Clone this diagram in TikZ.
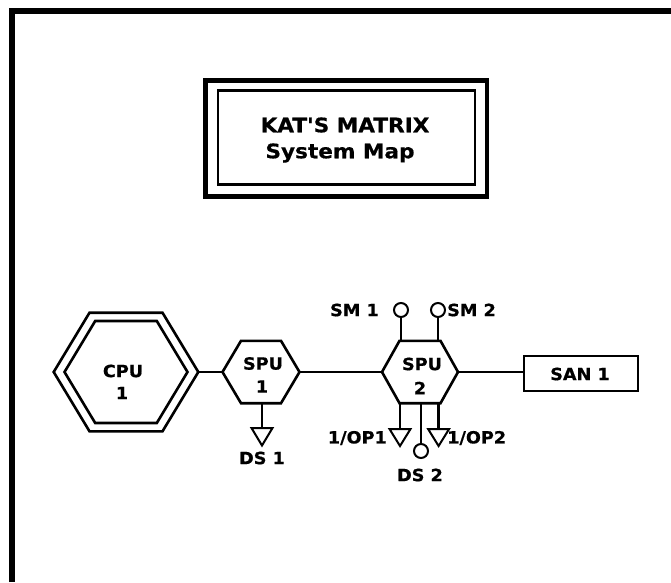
\documentclass[tikz,border=0pt]{standalone}
\usepackage{fontspec}
\setmainfont{DejaVu Sans}
\newfontfamily\lblfont{DejaVu Sans}[FakeStretch=1.05,FakeBold=0.6]
\newfontfamily\ttlfont{DejaVu Sans}[FakeStretch=1.08,FakeBold=0.6]
\begin{document}
\begin{tikzpicture}[x=1pt,y=-1pt,
  wire/.style={line width=2.4pt},
  shapeline/.style={line width=2.6pt,line join=miter},
  thinline/.style={line width=2pt},
  lbl/.style={font=\lblfont\bfseries\fontsize{16.8}{16.8}\selectfont,inner sep=0pt},
  ttl/.style={font=\ttlfont\bfseries\fontsize{20}{20}\selectfont,inner sep=0pt}]
\useasboundingbox (0,0) rectangle (671,582);
% frame (top and left only)
\draw[line width=5.5pt] (12,582) -- (12,11) -- (671,11);
% title box
\draw[line width=4.5pt] (205.5,80.5) rectangle (487,196.5);
\draw[line width=2.6pt] (218,90.5) rectangle (475,184.5);
\node[ttl] (t1) at (345,125) {KAT'S MATRIX};
\node[ttl] (t2) at (340,153) {System Map};
% hexagon macro
\newcommand{\hexpath}[5]{%
  (#1-#3,#2) -- (#1-#5,#2-#4) -- (#1+#5,#2-#4) -- (#1+#3,#2) -- (#1+#5,#2+#4) -- (#1-#5,#2+#4) -- cycle}
% CPU
\draw[shapeline] \hexpath{126}{372}{72.3}{59.3}{36.5};
\draw[shapeline] \hexpath{126}{372}{61.5}{51}{30.8};
\coordinate (cpuR) at (198.3,372);
\node[lbl] (cpu) at (123,371) {CPU};
\node[lbl] (cpu1) at (122,393) {1};
% SPU1
\draw[shapeline] \hexpath{261}{372}{38.5}{31.2}{20};
\coordinate (s1L) at (222.5,372);
\coordinate (s1R) at (299.5,372);
\coordinate (s1B) at (262,403.2);
\node[lbl] (spu1) at (263,363.5) {SPU};
\node[lbl] (spu1n) at (262,386.5) {1};
% SPU2
\draw[shapeline] \hexpath{420}{372}{38}{31.2}{20.5};
\coordinate (s2L) at (382,372);
\coordinate (s2R) at (458,372);
\node[lbl] (spu2) at (422,364) {SPU};
\node[lbl] (spu2n) at (420,388) {2};
% SAN 1
\node[draw,line width=2.4pt,minimum width=114pt,minimum height=35pt,inner sep=0pt] (san) at (581,373.5) {};
\node[lbl] (santxt) at (580,374) {SAN 1};
% connectors
\draw[wire] (cpuR) -- (s1L);
\draw[wire] (s1R) -- (s2L);
\draw[wire] (s2R) -- (s2R -| san.west);
% SM circles
\node[draw,thinline,circle,minimum size=14pt,inner sep=0pt] (sm1) at (401,310) {};
\node[draw,thinline,circle,minimum size=14pt,inner sep=0pt] (sm2) at (438,310) {};
\draw[wire] (sm1.south) -- (401,340.8);
\draw[wire] (sm2.south) -- (438,340.8);
\node[lbl,anchor=east] (sm1t) at (379,310) {SM 1};
\node[lbl,anchor=west] (sm2t) at (447,310) {SM 2};
% DS 1
\coordinate (ds1top) at (262,428);
\draw[wire] (s1B) -- (ds1top);
\draw[thinline,line join=miter] (251.5,428) -- (272.5,428) -- (262,445.5) -- cycle;
\node[lbl] (ds1t) at (262,458) {DS 1};
% SPU2 lower
\draw[wire] (400,403.2) -- (400,429);
\draw[wire] (438.6,403.2) -- (438.6,429);
\draw[thinline,line join=miter] (389.5,429) -- (410.5,429) -- (400,446) -- cycle;
\draw[thinline,line join=miter] (428.1,429) -- (449.1,429) -- (438.6,446) -- cycle;
\node[draw,thinline,circle,minimum size=14pt,inner sep=0pt] (ds2) at (421,451) {};
\draw[wire] (421,403.2) -- (ds2.north);
\node[lbl,anchor=east] (op1) at (387,438) {1/OP1};
\node[lbl,anchor=west] (op2) at (447,438) {1/OP2};
\node[lbl] (ds2t) at (420,475) {DS 2};
\end{tikzpicture}
\end{document}
